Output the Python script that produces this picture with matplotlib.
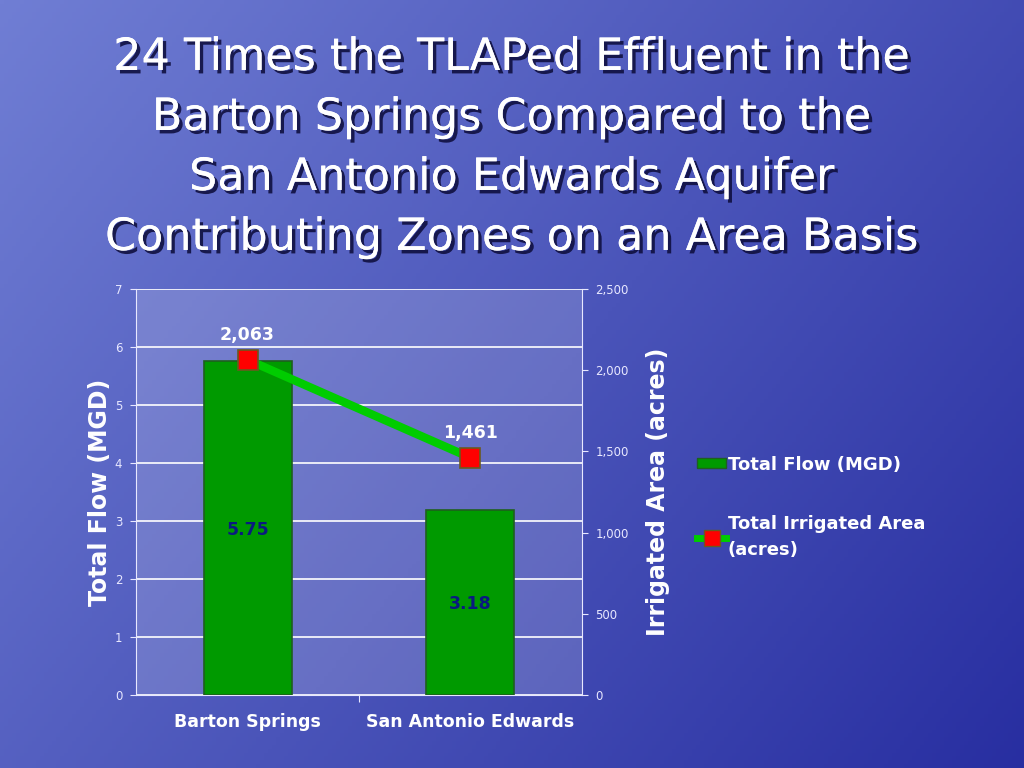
import numpy as np
import matplotlib
matplotlib.use("Agg")
import matplotlib.pyplot as plt
import matplotlib.patheffects as pe
from matplotlib.lines import Line2D
from matplotlib.patches import Patch

categories = ["Barton Springs", "San Antonio Edwards"]
total_flow = [5.75, 3.18]
irrigated_area = [2063, 1461]
flow_labels = ["5.75", "3.18"]
area_labels = ["2,063", "1,461"]
title = ("24 Times the TLAPed Effluent in the\nBarton Springs Compared to the\n"
         "San Antonio Edwards Aquifer\nContributing Zones on an Area Basis")

fig = plt.figure(figsize=(10.24, 7.68), dpi=100)

# background gradient
bg = fig.add_axes([0, 0, 1, 1], zorder=-10)
h, w = 200, 256
yy, xx = np.mgrid[0:1:h*1j, 0:1:w*1j]
t = np.clip(0.6 * xx + 0.35 * yy, 0, 1)
top = np.array([112, 126, 212]) / 255
bot = np.array([36, 42, 158]) / 255
img = top[None, None, :] * (1 - t[..., None]) + bot[None, None, :] * t[..., None]
bg.imshow(img, aspect="auto", extent=[0, 1, 0, 1], origin="upper")
bg.set_axis_off()

ax = fig.add_axes([0.133, 0.095, 0.435, 0.529])
ax.set_facecolor((1, 1, 1, 0.16))
x = np.arange(len(categories))
bars = ax.bar(x, total_flow, width=0.395, color="#009a00", edgecolor="#1f5f1f",
              linewidth=1.2, zorder=3)
ax.set_xlim(-0.5, 1.5)
ax.set_ylim(0, 7)
ax.set_yticks(range(0, 8))
ax.yaxis.grid(True, color="white", linewidth=1.2, zorder=0)
ax.set_axisbelow(True)
for s in ["top", "right"]:
    ax.spines[s].set_visible(False)
ax.spines["left"].set_color("#e8e8ff")
ax.spines["bottom"].set_color("#e8e8ff")
ax.set_xticks([0.5])
ax.set_xticklabels([""])
ax.tick_params(axis="x", length=5, color="#e8e8ff")
ax.tick_params(axis="y", colors="#e8e8ff", labelsize=8.5, length=4, pad=6)
for xi, lab in zip(x, categories):
    ax.text(xi, -0.46, lab, ha="center", va="center", color="white",
            fontsize=12.5, fontweight="bold")
for xi, v, lab in zip(x, total_flow, flow_labels):
    ax.text(xi, v / 2 - 0.03, lab, ha="center", va="center",
            color="#0a1a80", fontsize=12.5, fontweight="bold", zorder=5)
ax.set_ylabel("Total Flow (MGD)", color="white", fontsize=17, fontweight="bold",
              labelpad=2)

ax2 = ax.twinx()
ax2.set_ylim(0, 2500)
ax2.set_yticks(range(0, 2501, 500))
ax2.set_yticklabels([f"{v:,}" for v in range(0, 2501, 500)])
for s in ["top", "left", "bottom"]:
    ax2.spines[s].set_visible(False)
ax2.spines["right"].set_color("#e8e8ff")
ax2.tick_params(axis="y", colors="#e8e8ff", labelsize=8.5, length=4, pad=6)
ax2.plot(x, irrigated_area, color="#00cc00", linewidth=6, zorder=4,
         marker="s", markersize=14, markerfacecolor="#ff0000",
         markeredgecolor="#6a5a20", markeredgewidth=1.2)
for xi, v, lab in zip(x, irrigated_area, area_labels):
    ax2.text(xi, v + 95, lab, ha="center", va="bottom", color="white",
             fontsize=12.5, fontweight="bold")
ax2.set_ylabel("Irrigated Area (acres)", color="white", fontsize=17,
               fontweight="bold", labelpad=12)

handles = [Patch(facecolor="#009a00", edgecolor="#1f5f1f"),
           Line2D([], [], color="#00cc00", linewidth=5, marker="s", markersize=11,
                  markerfacecolor="#ff0000", markeredgecolor="#6a5a20")]
leg = fig.legend(handles, ["Total Flow (MGD)", "Total Irrigated Area\n(acres)"],
                 loc="upper left", bbox_to_anchor=(0.665, 0.428), frameon=False,
                 labelcolor="white", prop={"weight": "bold", "size": 13},
                 handlelength=1.6, handleheight=0.5, handletextpad=0.1,
                 labelspacing=2.3)
for t_ in leg.get_texts():
    t_.set_linespacing(1.6)

fig.text(0.5, 0.808, title, ha="center", va="center", color="white",
         fontsize=32, linespacing=1.5,
         path_effects=[pe.withSimplePatchShadow(offset=(2.5, -2.5),
                                                shadow_rgbFace="#101040", alpha=0.9),
                       pe.Normal()])

fig.savefig("out.png", dpi=100)
